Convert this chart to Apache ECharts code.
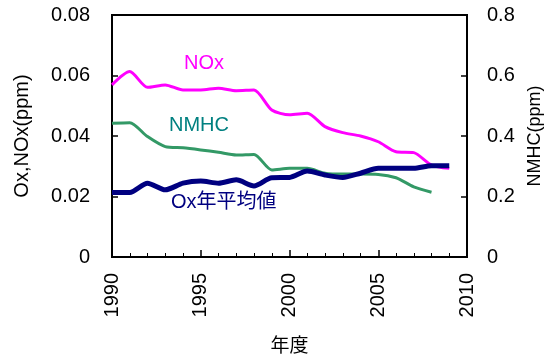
<!DOCTYPE html>
<html><head><meta charset="utf-8">
<script src="https://cdn.jsdelivr.net/npm/echarts@6/dist/echarts.min.js"></script>
<style>html,body{margin:0;padding:0;background:#fff}#c{width:553px;height:358px}</style>
</head><body><div id="c"></div>
<script>
var years = [1990,1991,1992,1993,1994,1995,1996,1997,1998,1999,2000,2001,2002,2003,2004,2005,2006,2007,2008,2009];
var nox = [0.0569,0.0613,0.0561,0.0569,0.0552,0.0552,0.0558,0.0550,0.0552,0.0486,0.0470,0.0475,0.0431,0.0411,0.0400,0.0381,0.0348,0.0345,0.0304,0.0293];
var nmhc = [0.442,0.444,0.398,0.365,0.361,0.354,0.346,0.337,0.339,0.288,0.293,0.293,0.277,0.274,0.274,0.273,0.262,0.232,0.214];
var ox = [0.0213,0.0213,0.0244,0.0222,0.0244,0.0251,0.0244,0.0255,0.0235,0.0262,0.0263,0.0284,0.0271,0.0263,0.0277,0.0293,0.0293,0.0293,0.0302,0.0302];
var leftTicks = ['0','0.02','0.04','0.06','0.08'];
var rightTicks = ['0','0.2','0.4','0.6','0.8'];

function pairs(xs, ys){ return ys.map(function(v,i){return [xs[i], v];}); }
var FONT = '"Liberation Sans", Arial, "Noto Sans CJK JP", sans-serif';
var chart = echarts.init(document.getElementById('c'), null, {renderer:'canvas'});
chart.setOption({
  animation:false,
  textStyle:{fontFamily:FONT},
  grid:{left:112,right:86,top:15,bottom:101,outerBoundsMode:'none',containLabel:false,show:true,borderColor:'#000',borderWidth:2,backgroundColor:'transparent'},
  xAxis:{type:'value',min:1990,max:2010,interval:5,
    name:'年度',nameLocation:'middle',nameGap:80,nameTextStyle:{fontSize:19,color:'#000',fontFamily:FONT},
    axisLine:{lineStyle:{color:'#000',width:2}},
    axisTick:{inside:true,length:7,lineStyle:{color:'#000',width:1.5}},
    minorTick:{show:true,splitNumber:5,length:4,lineStyle:{color:'#000',width:1}},
    splitLine:{show:false},
    axisLabel:{rotate:90,fontSize:20,color:'#000',margin:16,fontFamily:FONT,formatter:function(v){return String(v);}}},
  yAxis:[
    {type:'value',min:0,max:0.08,interval:0.02,position:'left',
     name:'Ox,NOx(ppm)',nameLocation:'middle',nameGap:80,nameRotate:90,
     nameTextStyle:{fontSize:20,color:'#000',fontFamily:FONT},
     axisLine:{show:true,lineStyle:{color:'#000',width:2}},
     axisTick:{inside:true,length:6,lineStyle:{color:'#000',width:1.5}},
     splitLine:{show:false},
     axisLabel:{fontSize:20,color:'#000',margin:22,fontFamily:FONT,formatter:function(v,i){return leftTicks[i];}}},
    {type:'value',min:0,max:0.8,interval:0.2,position:'right',
     name:'NMHC(ppm)',nameLocation:'middle',nameGap:57,nameRotate:90,
     nameTextStyle:{fontSize:18,color:'#000',fontFamily:FONT},
     axisLine:{show:true,lineStyle:{color:'#000',width:2}},
     axisTick:{inside:true,length:6,lineStyle:{color:'#000',width:1.5}},
     splitLine:{show:false},
     axisLabel:{fontSize:20,color:'#000',margin:20,fontFamily:FONT,formatter:function(v,i){return rightTicks[i];}}}
  ],
  series:[
    {type:'line',name:'NOx',data:pairs(years,nox),yAxisIndex:0,smooth:0.25,symbol:'none',lineStyle:{color:'#FF00FF',width:3}},
    {type:'line',name:'NMHC',data:pairs(years,nmhc),yAxisIndex:1,smooth:0.25,symbol:'none',lineStyle:{color:'#339966',width:3}},
    {type:'line',name:'Ox',data:pairs(years,ox),yAxisIndex:0,smooth:0.25,symbol:'none',lineStyle:{color:'#000080',width:5}}
  ],
  graphic:[
    {type:'text',left:184,top:53,style:{text:'NOx',fontSize:20,fill:'#FF00FF',fontFamily:FONT}},
    {type:'text',left:169,top:115,style:{text:'NMHC',fontSize:20,fill:'#008080',fontFamily:FONT}},
    {type:'text',left:171,top:192,style:{text:'Ox年平均値',fontSize:20,fill:'#000080',fontFamily:FONT}}
  ]
});
</script></body></html>
